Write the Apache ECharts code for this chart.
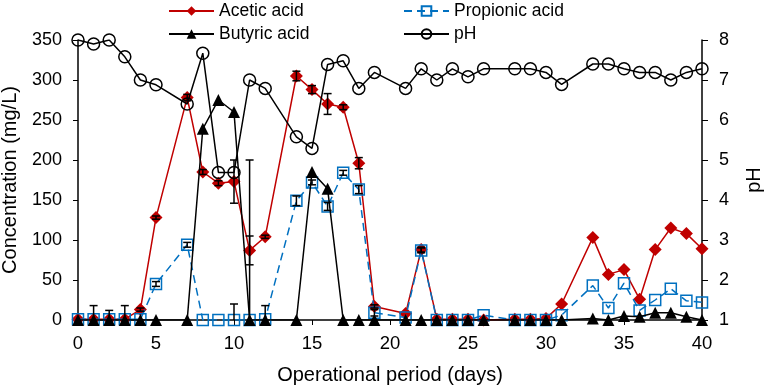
<!DOCTYPE html>
<html>
<head>
<meta charset="utf-8">
<script src="https://cdn.jsdelivr.net/npm/echarts@6/dist/echarts.min.js"></script>
<style>
  html, body { margin: 0; padding: 0; background: #fff; }
  #chart { width: 765px; height: 386px; }
</style>
</head>
<body>
<div id="chart"></div>
<script>
// sampling days
var days = [0, 1, 2, 3, 4, 5, 7, 8, 9, 10, 11, 12, 14, 15, 16, 17, 18, 19, 21, 22, 23, 24, 25, 26, 28, 29, 30, 31, 33, 34, 35, 36, 37, 38, 39, 40]

// concentrations (mg/L)
var acetic = [1, 1, 1, 1, 13, 128, 278, 185, 171, 173, 87, 104, 305, 288, 270, 266, 196, 17, 8, 88, 1, 1, 1, 0, 1, 1, 2, 20, 103, 57, 63, 26, 88, 115, 108, 89]
var propionic = [1, 1, 1, 1, 1, 45, 94, 0, 0, 0, 0, 1, 149, 172, 142, 184, 163, 9, 3, 87, 0, 0, 0, 6, 0, 0, 0, 6, 43, 15, 46, 12, 25, 39, 24, 22]
var butyric = [0, 0, 0, 0, 0, 0, 0, 239, 275, 260, 0, 0, 0, 185, 164, 0, 0, 0, 0, 0, 0, 0, 0, 0, 0, 0, 0, 0, 2, 0, 5, 4, 9, 9, 4, 0]
var ph = [8.0, 7.9, 8.0, 7.58, 7.0, 6.88, 6.4, 7.67, 4.69, 4.69, 7.0, 6.79, 5.58, 5.29, 7.39, 7.48, 6.79, 7.19, 6.79, 7.28, 7.0, 7.28, 7.08, 7.28, 7.28, 7.28, 7.19, 6.89, 7.4, 7.4, 7.28, 7.19, 7.19, 7.0, 7.19, 7.28]

// standard deviations
var aceticErr = [0, 17, 11, 17, 2, 2, 4, 3, 3, 27, 18, 2, 6, 5, 13, 3, 7, 2, 0, 3, 0, 0, 0, 0, 0, 0, 0, 0, 0, 0, 0, 0, 0, 0, 0, 0]
var propionicErr = [0, 0, 0, 0, 0, 3, 3, 0, 0, 20, 0, 17, 6, 3, 5, 3, 5, 4, 0, 3, 0, 0, 0, 0, 0, 0, 0, 0, 0, 0, 0, 0, 0, 0, 0, 0]
var butyricErr = [0, 0, 0, 0, 0, 0, 0, 0, 0, 0, 200, 0, 0, 0, 0, 0, 0, 0, 0, 0, 0, 0, 0, 0, 0, 0, 0, 0, 0, 0, 0, 0, 0, 0, 0, 0]

var names = ['Acetic acid', 'Propionic acid', 'Butyric acid', 'pH']

function pairs(vals) {
  return days.map(function(d, i) { return [d, vals[i]] })
}

// [day, low, high, drawLowCap]
function errData() {
  var out = []
  var sets = [[acetic, aceticErr], [propionic, propionicErr], [butyric, butyricErr]]
  sets.forEach(function(s) {
    days.forEach(function(d, i) {
      var e = s[1][i]
      if (e > 0) {
        out.push([d, Math.max(0, s[0][i] - e), s[0][i] + e, s[0][i] - e >= 0 ? 1 : 0])
      }
    })
  })
  return out
}

var chart = echarts.init(document.getElementById('chart'))
var font = 'Liberation Sans, Arial, sans-serif'

chart.setOption({
  animation: false,
  textStyle: { fontFamily: font },
  legend: [
    {
      orient: 'vertical',
      left: 163,
      top: -3,
      itemWidth: 45,
      itemHeight: 12,
      itemGap: 5,
      data: [names[0], names[2]],
      textStyle: { fontSize: 17.5, color: '#000', fontFamily: font }
    },
    {
      orient: 'vertical',
      left: 398,
      top: -3,
      itemWidth: 45,
      itemHeight: 12,
      itemGap: 5,
      data: [names[1], names[3]],
      textStyle: { fontSize: 17.5, color: '#000', fontFamily: font }
    }
  ],
  grid: {
    left: 78,
    right: 63,
    top: 40,
    bottom: 66,
    outerBoundsMode: 'none'
  },
  xAxis: {
    type: 'value',
    min: 0,
    max: 40,
    interval: 5,
    name: 'Operational period (days)',
    nameLocation: 'middle',
    nameGap: 45,
    nameTextStyle: { fontSize: 20, color: '#000' },
    axisLine: { lineStyle: { color: '#000', width: 1.5 } },
    axisTick: { show: true, length: 5, lineStyle: { color: '#000' } },
    axisLabel: { fontSize: 18.5, color: '#000', margin: 14 },
    splitLine: { show: false }
  },
  yAxis: [
    {
      type: 'value',
      min: 0,
      max: 350,
      interval: 50,
      name: 'Concentration (mg/L)',
      nameLocation: 'middle',
      nameGap: 58,
      nameTextStyle: { fontSize: 20, color: '#000' },
      axisLine: { show: true, lineStyle: { color: '#000', width: 1.5 } },
      axisTick: { show: true, length: 5, lineStyle: { color: '#000' } },
      axisLabel: { fontSize: 18, color: '#000', margin: 16 },
      splitLine: { show: false }
    },
    {
      type: 'value',
      min: 1,
      max: 8,
      interval: 1,
      name: 'pH',
      nameLocation: 'middle',
      nameGap: 42,
      nameTextStyle: { fontSize: 20, color: '#000' },
      axisLine: { show: true, lineStyle: { color: '#000', width: 1.5 } },
      axisTick: { show: true, length: 6, lineStyle: { color: '#000' } },
      axisLabel: { fontSize: 18, color: '#000', margin: 17 },
      splitLine: { show: false }
    }
  ],
  series: [
    {
      name: names[0],
      type: 'line',
      data: pairs(acetic),
      symbol: 'diamond',
      symbolSize: 13,
      lineStyle: { color: '#c00000', width: 1.5 },
      itemStyle: { color: '#c00000' },
      z: 2
    },
    {
      name: names[1],
      type: 'line',
      data: pairs(propionic),
      symbol: 'rect',
      symbolSize: 11,
      lineStyle: { color: '#0070c0', width: 1.5, type: [8, 5] },
      itemStyle: { color: 'rgba(255,255,255,0)', borderColor: '#0070c0', borderWidth: 1.5 },
      z: 3
    },
    {
      name: names[2],
      type: 'line',
      data: pairs(butyric),
      symbol: 'triangle',
      symbolSize: 12,
      lineStyle: { color: '#000', width: 1.5 },
      itemStyle: { color: '#000' },
      z: 4
    },
    {
      name: names[3],
      type: 'line',
      yAxisIndex: 1,
      data: pairs(ph),
      symbol: 'circle',
      symbolSize: 12,
      lineStyle: { color: '#000', width: 1.5 },
      itemStyle: { color: 'rgba(255,255,255,0)', borderColor: '#000', borderWidth: 1.5 },
      z: 5
    },
    {
      type: 'custom',
      silent: true,
      data: errData(),
      z: 6,
      renderItem: function(params, api) {
        var lo = api.coord([api.value(0), api.value(1)])
        var hi = api.coord([api.value(0), api.value(2)])
        var w = 4
        var children = [
          { type: 'line', shape: { x1: hi[0], y1: hi[1], x2: lo[0], y2: lo[1] }, style: { stroke: '#000', lineWidth: 1.5 } },
          { type: 'line', shape: { x1: hi[0] - w, y1: hi[1], x2: hi[0] + w, y2: hi[1] }, style: { stroke: '#000', lineWidth: 1.5 } }
        ]
        if (api.value(3) === 1) {
          children.push({ type: 'line', shape: { x1: lo[0] - w, y1: lo[1], x2: lo[0] + w, y2: lo[1] }, style: { stroke: '#000', lineWidth: 1.5 } })
        }
        return { type: 'group', children: children }
      }
    }
  ]
})
</script>
</body>
</html>
